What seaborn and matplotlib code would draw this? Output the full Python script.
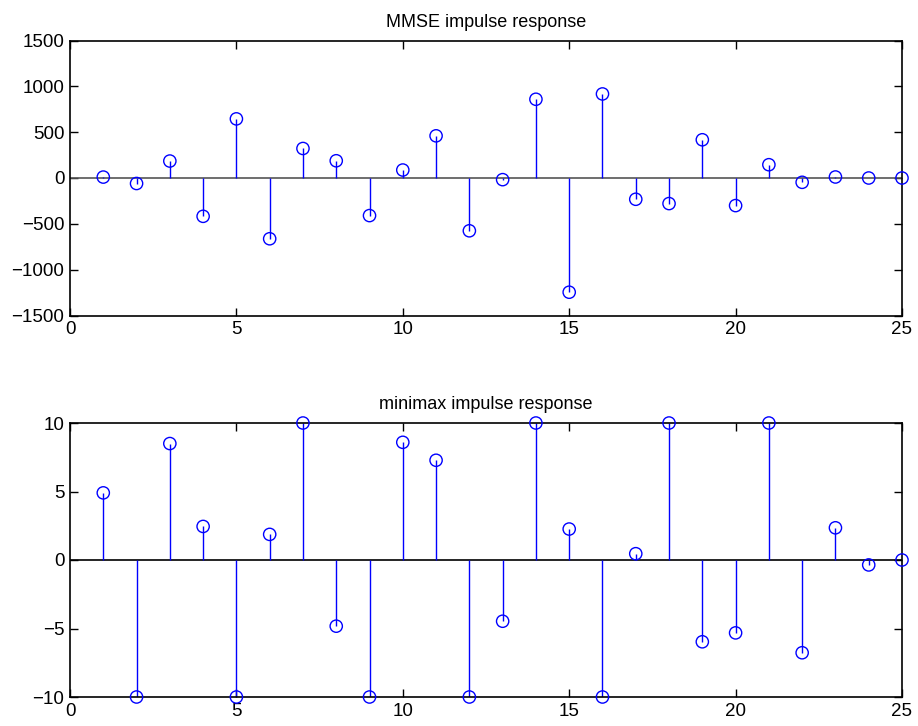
import numpy as np
import pandas as pd
import matplotlib
matplotlib.use("Agg")
import matplotlib.pyplot as plt
import seaborn as sns

# Filter taps
n = list(range(1, 26))
mmse_h = [10, -60, 185, -418, 645, -663, 322, 188, -410, 87, 460, -576, -18,
          859, -1246, 917, -232, -279, 417, -301, 145, -47, 11, 0, 0]
minimax_h = [4.90, -10, 8.50, 2.45, -10, 1.87, 10, -4.83, -10, 8.59, 7.28, -10,
             -4.47, 10, 2.26, -10, 0.46, 10, -5.97, -5.32, 10, -6.77, 2.35, -0.36, 0]

titles = ["MMSE impulse response", "minimax impulse response"]
x_ticks = [0, 5, 10, 15, 20, 25]
y_ticks_top = [-1500, -1000, -500, 0, 500, 1000, 1500]
y_ticks_bottom = [-10, -5, 0, 5, 10]

sns.set_style("ticks")
plt.rcParams["font.family"] = ["Liberation Sans", "DejaVu Sans"]
plt.rcParams["text.color"] = "black"

fig = plt.figure(figsize=(9.18, 7.26), dpi=100)
W, H = 918, 726
ax_top = fig.add_axes([70 / W, 1 - 315.5 / H, (902 - 70) / W, (315.5 - 40.5) / H])
ax_bot = fig.add_axes([70 / W, 1 - 697 / H, (902 - 70) / W, (697 - 423) / H])

blue = "#0000ff"

def stem_panel(ax, vals, title, yticks, base_color):
    df = pd.DataFrame({"n": n, "h": vals})
    ax.axhline(0, color=base_color, lw=1.2, zorder=1)
    ax.vlines(df["n"], 0, df["h"], color=blue, lw=1.0, zorder=2)
    sns.scatterplot(data=df, x="n", y="h", ax=ax, marker="o", s=78,
                    facecolors="none", edgecolor=blue, linewidth=1.0,
                    zorder=3, clip_on=False)
    ax.set_xlim(0, 25)
    ax.set_ylim(yticks[0], yticks[-1])
    ax.set_xticks(x_ticks)
    ax.set_yticks(yticks)
    ax.set_xlabel("")
    ax.set_ylabel("")
    ax.set_title(title, fontsize=13, pad=10, color="black")
    ax.tick_params(direction="in", length=6, width=1, top=True, right=True,
                   labelsize=13.5, pad=4, colors="black")
    for sp in ax.spines.values():
        sp.set_visible(True)
        sp.set_linewidth(1.2)
        sp.set_color("black")

stem_panel(ax_top, mmse_h, titles[0], y_ticks_top, "#555555")
stem_panel(ax_bot, minimax_h, titles[1], y_ticks_bottom, "black")

fig.savefig("out.png", dpi=100, facecolor="white")
